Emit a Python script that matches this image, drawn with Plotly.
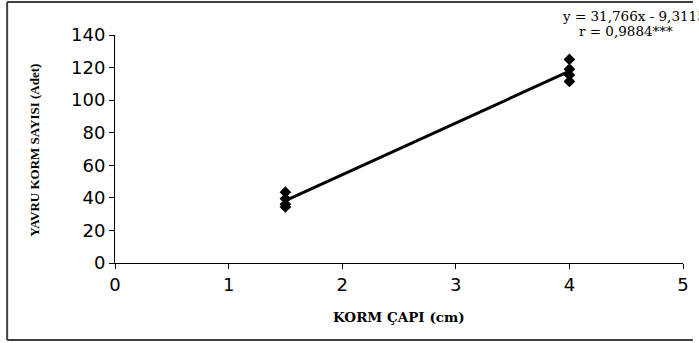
import numpy as np
import plotly.graph_objects as go

# Data
korm_capi = [1.5, 1.5, 1.5, 1.5, 4, 4, 4, 4]
yavru_sayisi = [43.5, 39.5, 36, 34.4, 125, 119, 115.5, 111.5]
x_ticks = [0, 1, 2, 3, 4, 5]
y_ticks = [0, 20, 40, 60, 80, 100, 120, 140]
equation_line = "y = 31,766x - 9,3115"
r_line = "r = 0,9884***"

W, H = 699, 343
L, R, T, B = 115, 10, 35, 80
pw, ph = W - L - R, H - T - B

slope, intercept = np.polyfit(korm_capi, yavru_sayisi, 1)
fit_x = [min(korm_capi), max(korm_capi)]
fit_y = [slope * v + intercept for v in fit_x]

fig = go.Figure()
fig.add_trace(go.Scatter(x=fit_x, y=fit_y, mode="lines",
                         line=dict(color="black", width=3), showlegend=False))
fig.add_trace(go.Scatter(x=korm_capi, y=yavru_sayisi, mode="markers",
                         marker=dict(symbol="diamond", size=9, color="black"),
                         showlegend=False))

def px_x(p):
    return (p - L) / pw

def px_y(p):
    return (H - B - p) / ph

tick_font = dict(family="DejaVu Sans", size=18, color="black")
serif_bold = dict(family="DejaVu Serif", size=13.5, color="black", weight="bold")
eq_font = dict(family="DejaVu Serif", size=13.5, color="black")

border = dict(color="#404040", width=2)
bx0, bx1, by0, by1 = px_x(6), px_x(699), px_y(340), px_y(2)

fig.update_layout(
    width=W, height=H,
    margin=dict(l=L, r=R, t=T, b=B),
    paper_bgcolor="white", plot_bgcolor="white",
    xaxis=dict(range=[0, 5], tickvals=x_ticks, showgrid=False, zeroline=False,
               showline=True, linecolor="black", linewidth=1,
               ticks="outside", ticklen=5, tickcolor="black", tickfont=tick_font),
    yaxis=dict(range=[0, 140], tickvals=y_ticks, showgrid=False, zeroline=False,
               showline=True, linecolor="black", linewidth=1,
               ticks="outside", ticklen=5, tickcolor="black", tickfont=tick_font),
    shapes=[
        dict(type="line", xref="paper", yref="paper", x0=bx0, x1=bx0, y0=by0, y1=by1, line=border),
        dict(type="line", xref="paper", yref="paper", x0=bx0, x1=bx1, y0=by1, y1=by1, line=border),
        dict(type="line", xref="paper", yref="paper", x0=bx0, x1=bx1, y0=by0, y1=by0, line=border),
    ],
    annotations=[
        dict(text="KORM ÇAPI (cm)", xref="paper", yref="paper",
             x=0.5, y=px_y(317), xanchor="center", yanchor="middle", showarrow=False,
             font=serif_bold),
        dict(text="YAVRU KORM SAYISI (Adet)", xref="paper", yref="paper",
             x=px_x(33), y=px_y(150), xanchor="center", yanchor="middle",
             textangle=-90, showarrow=False,
             font=dict(family="Liberation Serif", size=13, color="black", weight="bold")),
        dict(text=equation_line, xref="paper", yref="paper",
             x=px_x(565), y=px_y(15.5), xanchor="left", yanchor="middle",
             showarrow=False, font=eq_font),
        dict(text=r_line, xref="paper", yref="paper",
             x=px_x(631.5), y=px_y(30.5), xanchor="center", yanchor="middle",
             showarrow=False, font=eq_font),
    ],
)

fig.write_html("out.html", config={"displayModeBar": False},
               post_script="document.body.style.margin='0';")
